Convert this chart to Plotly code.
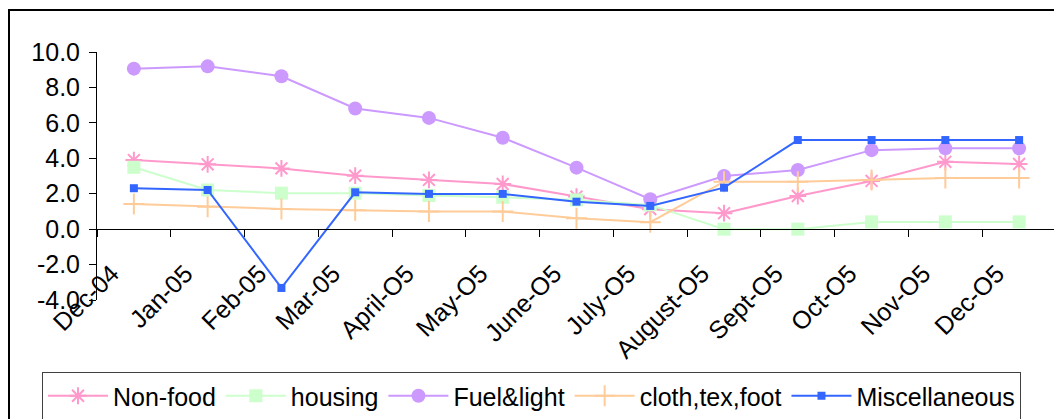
import plotly.graph_objects as go

months = ["Dec-04", "Jan-05", "Feb-05", "Mar-05", "April-O5", "May-O5", "June-O5",
          "July-O5", "August-O5", "Sept-O5", "Oct-O5", "Nov-O5", "Dec-O5"]
non_food = [3.9, 3.66, 3.43, 3.02, 2.78, 2.55, 1.84, 1.13, 0.9, 1.87, 2.72, 3.8, 3.68]
housing = [3.49, 2.21, 2.03, 2.03, 1.9, 1.8, 1.65, 1.37, 0.0, 0.0, 0.41, 0.41, 0.41]
fuel_light = [9.06, 9.19, 8.63, 6.81, 6.28, 5.16, 3.47, 1.69, 3.0, 3.34, 4.46, 4.56, 4.56]
cloth = [1.42, 1.27, 1.14, 1.07, 0.99, 0.99, 0.62, 0.39, 2.68, 2.68, 2.78, 2.89, 2.89]
misc = [2.31, 2.21, -3.32, 2.08, 1.99, 1.99, 1.55, 1.31, 2.34, 5.03, 5.03, 5.03, 5.03]
y_ticks = [-4, -2, 0, 2, 4, 6, 8, 10]

FONT = "Liberation Sans, Arial, sans-serif"
FS = 25
x_idx = list(range(len(months)))

series = [
    ("Non-food", non_food, "#FF99CC", dict(symbol="asterisk-open", size=14, line=dict(width=2, color="#FF99CC"))),
    ("housing", housing, "#CCFFCC", dict(symbol="square", size=13, color="#CCFFCC")),
    ("Fuel&light", fuel_light, "#CC99FF", dict(symbol="circle", size=14, color="#CC99FF")),
    ("cloth,tex,foot", cloth, "#FFCC99", dict(symbol="cross-thin-open", size=15, line=dict(width=2, color="#FFCC99"))),
    ("Miscellaneous", misc, "#3366FF", dict(symbol="square", size=8, color="#3366FF")),
]

fig = go.Figure()
for name, vals, col, mk in series:
    fig.add_trace(go.Scatter(x=x_idx, y=vals, name=name, mode="lines+markers",
                             line=dict(color=col, width=2), marker=mk, cliponaxis=False))

ymin, ymax = y_ticks[0], y_ticks[-1]
zero_pos = (0 - ymin) / (ymax - ymin)
n = len(months)

# page body has an 8px margin; figure is sized/offset to compensate
fig.update_layout(
    width=1054, height=411,
    margin=dict(l=89, r=6, t=44, b=119, autoexpand=False),
    paper_bgcolor="white", plot_bgcolor="white",
    font=dict(family=FONT, size=FS, color="black"),
    showlegend=True,
    legend=dict(orientation="h", x=(34 - 89) / 959, y=(292 - 364) / 248,
                xanchor="left", yanchor="top",
                bordercolor="#404040", borderwidth=1, font=dict(size=FS, family=FONT),
                itemwidth=60, tracegroupgap=0),
    xaxis=dict(range=[-0.5, n - 0.5], tickmode="array",
               tickvals=[i - 0.5 for i in range(n + 1)], ticktext=[""] * (n + 1),
               ticks="outside", ticklen=7, tickcolor="black", tickwidth=1,
               showline=True, linecolor="black", linewidth=1, showgrid=False,
               zeroline=False, anchor="free", position=zero_pos, automargin=False),
    xaxis2=dict(range=[-0.5, n - 0.5], overlaying="x", matches="x", tickmode="array",
                tickvals=[i - 0.30 for i in range(n)], ticktext=months, tickangle=-45,
                ticks="", showline=False, showgrid=False, zeroline=False,
                anchor="free", position=zero_pos, side="bottom", automargin=False,
                ticklabelstandoff=24, tickfont=dict(size=FS, family=FONT)),
    yaxis=dict(range=[ymin, ymax], tickmode="array", tickvals=y_ticks,
               ticktext=[f"{v:.1f}" for v in y_ticks], ticks="outside", ticklen=7,
               tickcolor="black", showline=True, linecolor="black", linewidth=1,
               showgrid=False, zeroline=False, ticklabelstandoff=4, automargin=False),
    shapes=[dict(type="rect", xref="paper", yref="paper",
                 x0=(1 - 89) / 959, x1=1.05, y0=-0.6, y1=1 + 42 / 248,
                 line=dict(color="black", width=2), layer="below")],
)
# dummy trace to activate xaxis2
fig.add_trace(go.Scatter(x=[0], y=[None], xaxis="x2", showlegend=False, hoverinfo="skip"))

fig.write_html("out.html")
